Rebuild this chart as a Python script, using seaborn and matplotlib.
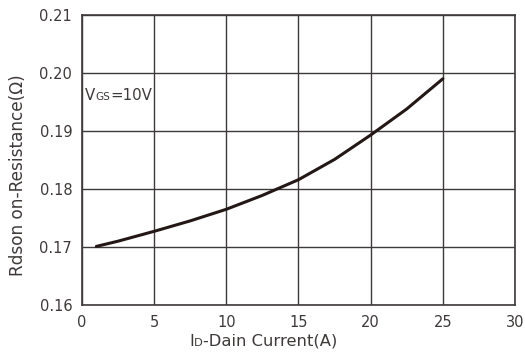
import matplotlib
matplotlib.use("Agg")
import matplotlib.pyplot as plt
from matplotlib.offsetbox import TextArea, HPacker, AnchoredOffsetbox
import seaborn as sns
import pandas as pd

# Drain current (A) and on-resistance (ohm) at VGS = 10 V
drain_current = [1, 2.5, 5, 7.5, 10, 12.5, 15, 17.5, 20, 22.5, 25]
rdson = [0.1701, 0.1710, 0.1727, 0.1745, 0.1765, 0.1789, 0.1816, 0.1851, 0.1893, 0.1938, 0.1990]

x_ticks = [0, 5, 10, 15, 20, 25, 30]
y_ticks = [0.16, 0.17, 0.18, 0.19, 0.20, 0.21]
y_tick_labels = ["0.16", "0.17", "0.18", "0.19", "0.20", "0.21"]

sns.set_theme(style="white")
plt.rcParams["font.family"] = ["DejaVu Sans"]

ink = "#231815"
grid_col = "#3e3a39"
text_col = "#3e3a39"

fig = plt.figure(figsize=(5.25, 3.53), dpi=100)
ax = fig.add_axes([0.156, 0.136, 0.825, 0.8215])

df = pd.DataFrame({"Id": drain_current, "Rdson": rdson})
sns.lineplot(data=df, x="Id", y="Rdson", ax=ax, color=ink, linewidth=2.2)

ax.set_xlim(0, 30)
ax.set_ylim(0.16, 0.21)
ax.set_xticks(x_ticks)
ax.set_yticks(y_ticks)
ax.set_yticklabels(y_tick_labels)
ax.grid(True, color=grid_col, linewidth=1.0)
ax.set_axisbelow(True)
for s in ax.spines.values():
    s.set_color(grid_col)
    s.set_linewidth(1.2)
ax.tick_params(axis="both", length=0, labelsize=10.5, colors=text_col)
ax.tick_params(axis="x", pad=7)
ax.tick_params(axis="y", pad=7)

ax.set_xlabel("")
ax.set_ylabel("")
fig.text(18 / 525, 1 - 175 / 353, "Rdson on-Resistance(Ω)", rotation=90,
         ha="center", va="center", fontsize=12.2, color=text_col)

# x-axis label with small subscript
xl = HPacker(children=[
    TextArea("I", textprops=dict(size=11.8, color=text_col)),
    TextArea("D", textprops=dict(size=8.2, color=text_col)),
    TextArea("-Dain Current(A)", textprops=dict(size=11.8, color=text_col)),
], align="baseline", pad=0, sep=0)
ab = AnchoredOffsetbox(loc="center", child=xl, frameon=False,
                       bbox_to_anchor=(263.5 / 525, 1 - 341 / 353),
                       bbox_transform=fig.transFigure, borderpad=0, pad=0)
fig.add_artist(ab)

# condition annotation
vl = HPacker(children=[
    TextArea("V", textprops=dict(size=10.8, color=text_col)),
    TextArea("GS", textprops=dict(size=7.6, color=text_col)),
    TextArea("=10V", textprops=dict(size=10.8, color=text_col)),
], align="baseline", pad=0, sep=0)
ab2 = AnchoredOffsetbox(loc="center left", child=vl, frameon=False,
                        bbox_to_anchor=(85 / 525, 1 - 96 / 353),
                        bbox_transform=fig.transFigure, borderpad=0, pad=0)
fig.add_artist(ab2)

fig.savefig("out.png", dpi=100, facecolor="white")
